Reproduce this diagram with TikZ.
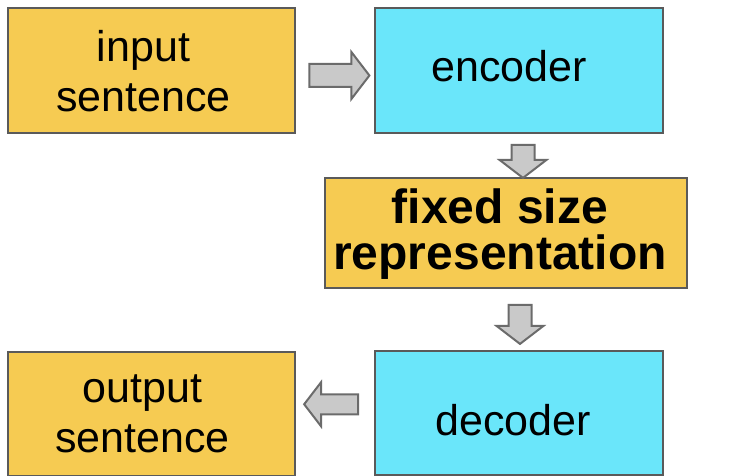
\documentclass[tikz,border=0pt]{standalone}
\usepackage{fontspec}
\setmainfont{Liberation Sans}
\usetikzlibrary{shapes.arrows,calc}
\definecolor{boxyellow}{HTML}{F6CB52}
\definecolor{boxcyan}{HTML}{6AE6FA}
\definecolor{edgegray}{HTML}{5A5A5A}
\definecolor{arrowgray}{HTML}{C9C9C9}

\begin{document}
\begin{tikzpicture}[x=1pt,y=-1pt,
  box/.style={draw=edgegray, line width=2pt, inner sep=0pt, outer sep=0pt},
  boxtext/.style={inner sep=0pt, align=center, font=\fontsize{43}{50}\selectfont},
  blockarrow/.style={single arrow, draw=edgegray!90, fill=arrowgray, line width=2pt, inner sep=10.5pt, single arrow head extend=12pt, single arrow tip angle=105}]
\useasboundingbox (0,0) rectangle (745,476);
\node[box, fill=boxyellow, minimum width=287pt, minimum height=125pt] (insent) at (151.5,70.5) {};
\node[box, fill=boxcyan, minimum width=288pt, minimum height=125pt] (encoder) at (519,70.5) {};
\node[box, fill=boxyellow, minimum width=362pt, minimum height=110pt] (fixed) at (506,233) {};
\node[box, fill=boxcyan, minimum width=288pt, minimum height=124pt] (decoder) at (519,413) {};
\node[box, fill=boxyellow, minimum width=287pt, minimum height=124pt] (outsent) at (151.5,413.5) {};
% texts sit a little left of the box centres
\node[boxtext] (insent-t) at ($(insent)+(-8,1)$) {input\\sentence};
\node[boxtext, text height=23pt] (encoder-t) at ($(encoder)+(-10,0)$) {encoder};
\node[boxtext, font=\fontsize{48}{46}\selectfont\bfseries] (fixed-t) at ($(fixed)+(-6,1)$) {fixed size\\representation};
\node[boxtext, text height=44pt] (decoder-t) at ($(decoder)+(-6,1)$) {decoder};
\node[boxtext] (outsent-t) at ($(outsent)+(-9,0)$) {output\\sentence};
% block arrows between the boxes
\node[blockarrow, minimum height=60pt] (a1) at ($(insent.east)!0.5!(encoder.west)+(0,5)$) {};
\node[blockarrow, minimum height=33pt, shape border rotate=270] (a2) at ($(encoder.south)+(4,24)$) {};
\node[blockarrow, minimum height=39pt, shape border rotate=270] (a3) at ($(decoder.north)+(1,-31)$) {};
\node[blockarrow, minimum height=54pt, inner sep=9pt, shape border rotate=180] (a4) at ($(decoder.west)!0.5!(outsent.east)+(0,-9)$) {};
\end{tikzpicture}
\end{document}
